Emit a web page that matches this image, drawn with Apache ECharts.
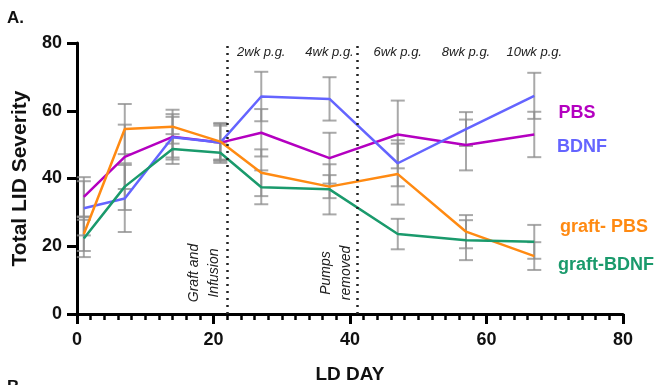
<!DOCTYPE html>
<html>
<head>
<meta charset="utf-8" />
<title>LID severity</title>
<style>
  html, body { margin: 0; padding: 0; background: #fff; }
  #main { width: 657px; height: 385px; }
</style>
</head>
<body>
<div id="main"></div>
<script src="https://cdn.jsdelivr.net/npm/echarts@6/dist/echarts.min.js"></script>
<script>
// data
var days = [1, 7, 14, 21, 27, 37, 47, 57, 67];
var pbs = [34.6, 46.4, 52.3, 50.6, 53.5, 46.0, 53.0, 49.9, 53.0];
var pbsErr = [5.8, 9.5, 6.7, 5.5, 7.0, 7.5, 10.0, 7.5, 6.7];
var bdnf = [31.2, 34.1, 52.2, 50.6, 64.2, 63.5, 44.5, 54.6, 64.4];
var bdnfErr = [8.0, 9.9, 6.0, 5.0, 7.3, 6.4, 6.8, 5.0, 6.8];
var graftPbs = [23.6, 54.6, 55.3, 50.9, 41.7, 37.6, 41.3, 24.3, 17.1];
var graftPbsErr = [5.0, 7.4, 5.0, 5.5, 6.9, 3.4, 9.0, 4.9, 4.1];
var graftBdnf = [22.3, 37.6, 48.7, 47.6, 37.4, 36.8, 23.6, 21.8, 21.3];
var graftBdnfErr = [5.5, 6.9, 4.4, 3.0, 5.0, 7.4, 4.5, 5.9, 5.0];

var weekDays = [27, 37, 47, 57, 67];
var weekLabels = ['2wk p.g.', '4wk p.g.', '6wk p.g.', '8wk p.g.', '10wk p.g.'];
var eventDays = [22, 41];
var eventLabels = ['Graft and\nInfusion', 'Pumps\nremoved'];

var seriesNames = ['PBS', 'BDNF', 'graft- PBS', 'graft-BDNF'];
var colors = ['#B400C0', '#6464FF', '#FF8A12', '#1A9A6C'];
var values = [pbs, bdnf, graftPbs, graftBdnf];
var errors = [pbsErr, bdnfErr, graftPbsErr, graftBdnfErr];

var font = "'Liberation Sans', Arial, sans-serif";

function errSeries(vals, errs) {
  var d = [];
  for (var i = 0; i < days.length; i++) {
    d.push([days[i], vals[i] - errs[i], vals[i] + errs[i]]);
  }
  return {
    type: 'custom',
    silent: true,
    z: 1,
    data: d,
    renderItem: function (params, api) {
      var lo = api.coord([api.value(0), api.value(1)]);
      var hi = api.coord([api.value(0), api.value(2)]);
      var w = 7;
      var st = { stroke: 'rgba(140,140,140,0.75)', lineWidth: 2 };
      return {
        type: 'group',
        children: [
          { type: 'line', shape: { x1: lo[0], y1: lo[1], x2: hi[0], y2: hi[1] }, style: st },
          { type: 'line', shape: { x1: lo[0] - w, y1: lo[1], x2: lo[0] + w, y2: lo[1] }, style: st },
          { type: 'line', shape: { x1: hi[0] - w, y1: hi[1], x2: hi[0] + w, y2: hi[1] }, style: st }
        ]
      };
    }
  };
}

var series = [];
for (var k = 0; k < values.length; k++) {
  series.push(errSeries(values[k], errors[k]));
}
for (var k = 0; k < values.length; k++) {
  var pts = [];
  for (var i = 0; i < days.length; i++) pts.push([days[i], values[k][i]]);
  var s = {
    name: seriesNames[k],
    type: 'line',
    data: pts,
    symbol: 'none',
    z: 3,
    lineStyle: { color: colors[k], width: 2.5 }
  };
  if (k === 0) {
    s.markLine = {
      silent: true,
      symbol: 'none',
      label: { show: false },
      lineStyle: { type: [2, 5], color: '#222', width: 2.5 },
      data: eventDays.map(function (d) { return { xAxis: d }; })
    };
  }
  series.push(s);
}

var chart = echarts.init(document.getElementById('main'));
chart.setOption({
  animation: false,
  grid: { left: 77, right: 34, top: 43, bottom: 71, outerBoundsMode: 'none' },
  xAxis: {
    type: 'value', min: 0, max: 80, interval: 20,
    name: 'LD DAY', nameLocation: 'middle', nameGap: 51,
    nameTextStyle: { fontFamily: font, fontWeight: 'bold', fontSize: 19, color: '#111' },
    axisLine: { lineStyle: { color: '#000', width: 3 } },
    axisTick: { length: 10, lineStyle: { color: '#000', width: 3 } },
    minorTick: { show: true, splitNumber: 10, length: 6, lineStyle: { color: '#000', width: 2.5 } },
    axisLabel: { margin: 17, fontFamily: font, fontWeight: 'bold', fontSize: 18, color: '#111' },
    splitLine: { show: false }
  },
  yAxis: {
    type: 'value', min: 0, max: 80, interval: 20,
    name: 'Total LID Severity', nameLocation: 'middle', nameGap: 42,
    nameTextStyle: { fontFamily: font, fontWeight: 'bold', fontSize: 21, color: '#111' },
    axisLine: { show: true, lineStyle: { color: '#000', width: 3 } },
    axisTick: { show: true, length: 10, lineStyle: { color: '#000', width: 3 } },
    axisLabel: { margin: 15, fontFamily: font, fontWeight: 'bold', fontSize: 18, color: '#111' },
    splitLine: { show: false }
  },
  series: series
});

// annotations placed through the axes
var g = [];
g.push({ type: 'text', left: 7, top: 10, style: { text: 'A.', font: 'bold 17px ' + font, fill: '#111' } });
g.push({ type: 'text', left: 7, top: 379, style: { text: 'B.', font: 'bold 17px ' + font, fill: '#111' } });
for (var i = 0; i < weekDays.length; i++) {
  var p = chart.convertToPixel({ gridIndex: 0 }, [weekDays[i], 0]);
  g.push({ type: 'text', x: p[0], y: 52, style: { text: weekLabels[i], font: 'italic 13px ' + font, fill: '#222', align: 'center', verticalAlign: 'middle' } });
}
var evOff = [-23, -21];
for (var i = 0; i < eventDays.length; i++) {
  var p = chart.convertToPixel({ gridIndex: 0 }, [eventDays[i], 0]);
  g.push({ type: 'text', x: p[0] + evOff[i], y: 273, rotation: Math.PI / 2, style: { text: eventLabels[i], font: 'italic 14px ' + font, fill: '#222', align: 'center', verticalAlign: 'middle', lineHeight: 20 } });
}
var legendPos = [[577, 113], [582, 147], [604, 227], [606, 265]];
for (var k = 0; k < seriesNames.length; k++) {
  g.push({ type: 'text', x: legendPos[k][0], y: legendPos[k][1], style: { text: seriesNames[k], font: 'bold 18px ' + font, fill: colors[k], align: 'center', verticalAlign: 'middle' } });
}
chart.setOption({ graphic: g });
</script>
</body>
</html>
